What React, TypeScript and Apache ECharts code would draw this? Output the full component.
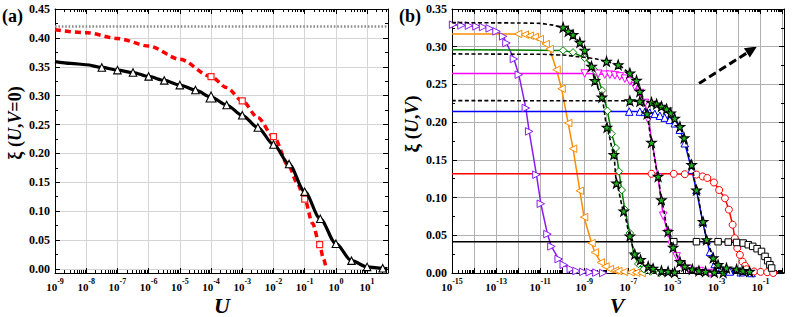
import React, { useEffect, useRef } from 'react';
import * as echarts from 'echarts';

const FONT = '"Liberation Serif", "Times New Roman", Times, serif';

// ---------------- Panel (a): xi(U, V=0) vs U  (x stored as log10 U) ----------------
const aLimitXi = 0.425;
const aBlackLogU = [-9, -8.5, -8, -7.5, -7, -6.5, -6, -5.5, -5, -4.5, -4, -3.5, -3, -2.5, -2, -1.5, -1, -0.5, 0, 0.5, 1, 1.5, 1.65];
const aBlackXi = [0.359, 0.356, 0.3535, 0.3488, 0.3442, 0.34, 0.3333, 0.3264, 0.3183, 0.3097, 0.2976, 0.2838, 0.266, 0.2448, 0.2155, 0.1816, 0.1338, 0.0868, 0.0437, 0.0144, 0.0036, 0.0012, 0.0005];
const aBlackMarkFrom = 3;
const aBlackMarkTo = 22;
const aRedLogU = [-9, -8, -7, -6, -5, -4, -3.5, -3, -2.5, -2, -1.5, -1.25, -1, -0.75, -0.52, -0.4, -0.31];
const aRedXi = [0.414, 0.409, 0.399, 0.386, 0.363, 0.333, 0.314, 0.291, 0.262, 0.229, 0.177, 0.15, 0.121, 0.079, 0.042, 0.018, 0.0];
const aRedMarkedLogU = [-4, -3, -2, -1, -0.52];
const aXTicks = { min: -9, max: 1.67 };

// ---------------- Panel (b): xi(U, V) vs V  (x stored as log10 V) ----------------
const purpleLogV = [-14.95, -14.57, -14.23, -13.89, -13.59, -13.29, -12.98, -12.68, -12.53, -12.19, -11.97, -11.65, -11.5, -11.17, -10.97, -10.67, -10.49, -10.16, -9.93, -9.61, -9.35, -9.05, -8.75, -8.45, -8.14];
const purpleXi = [0.3292, 0.3283, 0.3279, 0.327, 0.3261, 0.3243, 0.3203, 0.3137, 0.3049, 0.2837, 0.2629, 0.2187, 0.1877, 0.1303, 0.0918, 0.0516, 0.0352, 0.0185, 0.0109, 0.0052, 0.0026, 0.0015, 0.001, 0.0005, 0.0];

const orangeLogV = [-15, -12.0, -11.7, -11.47, -11.25, -11.02, -10.75, -10.57, -10.26, -10.03, -9.73, -9.51, -9.2, -9.01, -8.67, -8.52, -8.25, -8.04, -7.84, -7.61, -7.46, -7.2, -6.9, -6.65, -6.4];
const orangeXi = [0.3169, 0.3169, 0.316, 0.3146, 0.3129, 0.3102, 0.3036, 0.297, 0.2695, 0.2443, 0.1988, 0.1648, 0.109, 0.0742, 0.0397, 0.0273, 0.014, 0.0087, 0.0052, 0.0033, 0.0026, 0.0015, 0.001, 0.0005, 0.0];

const greenLogV = [-15, -9.96, -9.51, -8.98, -8.48, -8.19, -7.95, -7.76, -7.57, -7.43, -7.3, -7.16, -6.93, -6.75, -6.55, -6.3, -6.0, -5.6];
const greenXi = [0.296, 0.2951, 0.2925, 0.285, 0.2673, 0.242, 0.2151, 0.1846, 0.1657, 0.1347, 0.11, 0.084, 0.053, 0.025, 0.012, 0.005, 0.002, 0.0];

const magentaLogV = [-15, -8.98, -8.37, -8.07, -7.84, -7.61, -7.39, -7.16, -6.93, -6.71, -6.48, -6.25, -6.1, -5.65, -5.42, -5.2, -5.04, -4.81, -4.59, -4.29, -3.76, -3.3];
const magentaXi = [0.2645, 0.2645, 0.2642, 0.2629, 0.2629, 0.262, 0.2606, 0.2576, 0.254, 0.2474, 0.2386, 0.2254, 0.2032, 0.1267, 0.0759, 0.053, 0.0375, 0.022, 0.011, 0.0052, 0.0026, 0.0];

const blueLogV = [-15, -6.96, -6.48, -6.25, -6.03, -5.8, -5.57, -5.35, -5.12, -4.89, -4.67, -4.44, -4.13, -3.91, -3.63, -3.45, -3.3, -3.08, -2.8, -2.4, -1.9, -1.41];
const blueXi = [0.214, 0.214, 0.214, 0.2136, 0.2125, 0.211, 0.2085, 0.206, 0.203, 0.1985, 0.19, 0.172, 0.137, 0.11, 0.068, 0.044, 0.028, 0.012, 0.005, 0.002, 0.001, 0.0];

const redLogV = [-15, -5.95, -4.94, -4.44, -3.91, -3.63, -3.42, -3.12, -2.88, -2.62, -2.44, -2.27, -2.17, -2.06, -1.94, -1.82, -1.71, -1.64, -1.3, -1.0, -0.7, -0.43];
const redXi = [0.1315, 0.1315, 0.1315, 0.131, 0.1305, 0.128, 0.126, 0.12, 0.11, 0.099, 0.084, 0.064, 0.046, 0.033, 0.024, 0.015, 0.0096, 0.005, 0.002, 0.0015, 0.001, 0.0];

const blackLogV = [-15, -4.94, -3.91, -2.93, -2.47, -2.09, -1.79, -1.56, -1.36, -1.16, -0.96, -0.8, -0.68, -0.58, -0.5, -0.35, 0.06];
const blackXi = [0.0415, 0.0415, 0.0415, 0.0415, 0.041, 0.0405, 0.0397, 0.0375, 0.0353, 0.0322, 0.0286, 0.022, 0.0163, 0.011, 0.0066, 0.002, 0.0];

const starALogV = [-15, -12, -11, -10.5, -9.96, -9.73, -9.51, -9.2, -8.98, -8.67, -8.52, -8.2, -7.97, -7.66, -7.54, -7.21, -6.93, -6.71, -6.45, -6.1, -5.88, -5.5, -5.2, -4.9];
const starAXi = [0.332, 0.3315, 0.331, 0.329, 0.3256, 0.3203, 0.3159, 0.3057, 0.2951, 0.274, 0.2549, 0.233, 0.193, 0.157, 0.119, 0.082, 0.049, 0.025, 0.0176, 0.0087, 0.006, 0.003, 0.002, 0.001];
const starAMarkFrom = 4;

const starBLogV = [-15, -11, -10, -9, -8.5, -7.99, -7.46, -6.93, -6.63, -6.48, -6.15, -5.95, -5.65, -5.5, -5.2, -4.97, -4.66, -4.44, -4.1, -3.8, -3.5, -3.1, -2.7];
const starBXi = [0.2905, 0.29, 0.289, 0.286, 0.284, 0.2805, 0.276, 0.265, 0.2553, 0.2407, 0.2111, 0.173, 0.128, 0.097, 0.055, 0.034, 0.015, 0.009, 0.005, 0.003, 0.002, 0.001, 0.0005];
const starBMarkFrom = 5;

const starCLogV = [-15, -8, -6.93, -6.48, -5.95, -5.72, -5.5, -5.27, -5.08, -4.9, -4.66, -4.47, -4.13, -3.91, -3.61, -3.45, -3.15, -2.93, -2.55, -2.09, -1.8, -1.5];
const starCXi = [0.2285, 0.2284, 0.2282, 0.2275, 0.2262, 0.224, 0.221, 0.2174, 0.212, 0.205, 0.194, 0.179, 0.1435, 0.11, 0.068, 0.044, 0.02, 0.011, 0.0066, 0.005, 0.003, 0.002];
const starCMarkFrom = 2;

const bXTicks = { min: -15, max: 0.06 };

const STAR = 'path://M50,0 L61.8,35.1 L98.1,35.1 L68.7,56.7 L79.4,91 L50,70 L20.6,91 L31.3,56.7 L1.9,35.1 L38.2,35.1 Z';

function logMinor(minE: number, maxE: number) {
  const out: number[] = [];
  for (let n = Math.floor(minE); n < maxE; n++) {
    for (let k = 2; k <= 9; k++) {
      const v = n + Math.log10(k);
      if (v > minE && v < maxE) out.push(v);
    }
  }
  return out;
}

const isInt = (v: number) => Math.abs(v - Math.round(v)) < 1e-6;

const tickRich = {
  b: { fontFamily: FONT, fontWeight: 'bold', fontSize: 11, color: '#000', lineHeight: 15, verticalAlign: 'bottom' },
  s: { fontFamily: FONT, fontWeight: 'bold', fontSize: 8, color: '#000', lineHeight: 10, verticalAlign: 'top' },
};

function xMain(grid: number, ext: { min: number; max: number }, onlyOdd: boolean, splitColor: string) {
  return {
    type: 'value', gridIndex: grid, position: 'bottom', min: ext.min, max: ext.max, interval: 1,
    axisLine: { show: true, onZero: false, lineStyle: { color: '#000', width: 1 } },
    axisTick: { show: true, inside: true, length: 5, lineStyle: { color: '#000', width: 1 } },
    axisLabel: {
      show: true, margin: 4, showMaxLabel: false,
      formatter: (v: number) => {
        if (!isInt(v)) return '';
        const n = Math.round(v);
        if (onlyOdd && Math.abs(n % 2) !== 1) return '';
        return `{b|10}{s|${n}}`;
      },
      rich: tickRich,
    },
    splitLine: { show: true, lineStyle: { color: splitColor, width: 1 } },
  };
}
function xTop(grid: number, ext: { min: number; max: number }) {
  return {
    type: 'value', gridIndex: grid, position: 'top', min: ext.min, max: ext.max, interval: 1,
    axisLine: { show: true, onZero: false, lineStyle: { color: '#000', width: 1 } },
    axisTick: { show: true, inside: true, length: 5, lineStyle: { color: '#000', width: 1 } },
    axisLabel: { show: false },
    splitLine: { show: false },
  };
}
function xMinor(grid: number, ext: { min: number; max: number }, position: string) {
  return {
    type: 'value', gridIndex: grid, position, min: ext.min, max: ext.max,
    axisLine: { show: false, onZero: false },
    axisTick: { show: true, inside: true, length: 3, customValues: logMinor(ext.min, ext.max), lineStyle: { color: '#000', width: 1 } },
    axisLabel: { show: false },
    splitLine: { show: false },
  };
}
function yAxis(grid: number, position: string, min: number, max: number, labels: boolean, splitColor: string, interval?: number) {
  const ax: any = {
    type: 'value', gridIndex: grid, position, min, max,
    axisLine: { show: true, onZero: false, lineStyle: { color: '#000', width: 1 } },
    axisTick: { show: true, inside: true, length: 5, lineStyle: { color: '#000', width: 1 } },
    minorTick: { show: true, splitNumber: 2, length: 3, lineStyle: { color: '#000', width: 1 } },
    axisLabel: {
      show: labels, margin: 5, showMinLabel: min === 0, fontFamily: FONT, fontWeight: 'bold', fontSize: 12, color: '#000',
      formatter: (v: number) => v.toFixed(2),
    },
    splitLine: { show: labels, lineStyle: { color: splitColor, width: 1 } },
  };
  if (interval) ax.interval = interval; else ax.splitNumber = 9;
  return ax;
}
function hiddenY(grid: number) {
  return { type: 'value', gridIndex: grid, min: 0, max: 1, show: false };
}

function pts(xs: number[], ys: number[], marked: (i: number) => boolean, big?: (i: number) => boolean, bigSize?: number) {
  return xs.map((x, i) => {
    const it: any = { value: [x, ys[i]] };
    if (!marked(i)) it.symbol = 'none';
    else if (big && big(i)) it.symbolSize = bigSize;
    return it;
  });
}

function bLine(xs: number[], ys: number[], color: string, symbol: string, rotate: number, markFrom: number, size: number) {
  return {
    type: 'line', xAxisIndex: 4, yAxisIndex: 3,
    data: pts(xs, ys, (i) => i >= markFrom),
    symbol, symbolSize: size, symbolRotate: rotate, showSymbol: true,
    lineStyle: { color, width: 1.5 },
    itemStyle: { color: '#fff', borderColor: color, borderWidth: 1 },
    silent: true, z: 3,
  };
}
function starLine(xs: number[], ys: number[], markFrom: number) {
  return {
    type: 'line', xAxisIndex: 4, yAxisIndex: 3,
    data: pts(xs, ys, (i) => i >= markFrom),
    symbol: STAR, symbolSize: 9.5, showSymbol: true,
    smooth: 0.2, smoothMonotone: 'x',
    lineStyle: { color: '#000', width: 1.6, type: [4, 2.5] },
    itemStyle: { color: '#1fb51f', borderColor: '#000', borderWidth: 1.1 },
    silent: true, z: 5,
  };
}

function buildOption() {
  const gridA = { left: 55, top: 9, width: 333, height: 264 };
  const gridB = { left: 452, top: 9, width: 332, height: 264 };
  const aColor = '#d4d4d4';
  const bColor = '#b0b0b0';

  // arrow geometry (annotation)
  const tip = [757, 46.5];
  const tail = [699, 83.5];
  const dx = tip[0] - tail[0], dy = tip[1] - tail[1];
  const L = Math.hypot(dx, dy);
  const ux = dx / L, uy = dy / L;
  const baseC = [tip[0] - 12 * ux, tip[1] - 12 * uy];
  const px = -uy, py = ux;

  const titleRich = (size: number) => ({
    g: { fontFamily: FONT, fontSize: size, fontWeight: 'bold', color: '#000' },
    p: { fontFamily: FONT, fontSize: size, fontWeight: 'bold', color: '#000' },
    i: { fontFamily: FONT, fontSize: size, fontWeight: 'bold', fontStyle: 'italic', color: '#000' },
  });

  return {
    animation: false,
    backgroundColor: '#fff',
    grid: [gridA, gridA, gridB, gridB],
    xAxis: [
      xMain(0, aXTicks, false, aColor),
      xTop(0, aXTicks),
      xMinor(1, aXTicks, 'bottom'),
      xMinor(1, aXTicks, 'top'),
      xMain(2, bXTicks, true, bColor),
      xTop(2, bXTicks),
      xMinor(3, bXTicks, 'bottom'),
      xMinor(3, bXTicks, 'top'),
    ],
    yAxis: [
      yAxis(0, 'left', -0.007, 0.45, true, aColor),
      yAxis(0, 'right', -0.007, 0.45, false, aColor),
      hiddenY(1),
      yAxis(2, 'left', 0, 0.35, true, bColor, 0.05),
      yAxis(2, 'right', 0, 0.35, false, bColor, 0.05),
      hiddenY(3),
    ],
    series: [
      {
        type: 'line', xAxisIndex: 0, yAxisIndex: 0,
        data: pts(aRedLogU, aRedXi, (i) => aRedMarkedLogU.includes(aRedLogU[i])),
        symbol: 'rect', symbolSize: 6, showSymbol: true,
        smooth: 0.3, smoothMonotone: 'x',
        lineStyle: { color: '#ff0000', width: 3.5, type: [6, 4] },
        itemStyle: { color: '#fff', borderColor: '#ff2020', borderWidth: 1.2 },
        silent: true, z: 3,
      },
      {
        type: 'line', xAxisIndex: 0, yAxisIndex: 0,
        data: pts(aBlackLogU, aBlackXi, (i) => i >= aBlackMarkFrom && i < aBlackMarkTo, (i) => aBlackLogU[i] === -4, 10),
        symbol: 'triangle', symbolSize: 7.5, showSymbol: true,
        smooth: 0.3, smoothMonotone: 'x',
        lineStyle: { color: '#000', width: 3.2 },
        itemStyle: { color: '#fff', borderColor: '#000', borderWidth: 1.1 },
        markLine: {
          silent: true, symbol: 'none', label: { show: false },
          lineStyle: { color: '#8c8c8c', width: 2.5, type: [1.6, 1.8] },
          data: [{ yAxis: aLimitXi }],
        },
        silent: true, z: 4,
      },
      bLine(purpleLogV, purpleXi, '#8a1cf0', 'triangle', -90, 0, 7.5),
      bLine(orangeLogV, orangeXi, '#ff8c00', 'triangle', 90, 1, 7.5),
      bLine(greenLogV, greenXi, '#008000', 'diamond', 0, 1, 7.5),
      bLine(magentaLogV, magentaXi, '#ff00ff', 'triangle', 180, 1, 7.5),
      bLine(blueLogV, blueXi, '#0000ff', 'triangle', 0, 1, 7.5),
      bLine(redLogV, redXi, '#ff0000', 'circle', 0, 1, 7),
      { ...bLine(blackLogV, blackXi, '#000000', 'rect', 0, 1, 6.5), data: pts(blackLogV, blackXi, (i) => i >= 1 && i < blackLogV.length - 2) },
      starLine(starALogV, starAXi, starAMarkFrom),
      starLine(starBLogV, starBXi, starBMarkFrom),
      starLine(starCLogV, starCXi, starCMarkFrom),
    ],
    graphic: [
      { type: 'text', x: 2, y: 16, style: { text: '(a)', font: `bold 18px ${FONT}`, fill: '#000', verticalAlign: 'middle', textVerticalAlign: 'middle' } },
      { type: 'text', x: 399, y: 16, style: { text: '(b)', font: `bold 18px ${FONT}`, fill: '#000', verticalAlign: 'middle', textVerticalAlign: 'middle' } },
      {
        type: 'text', x: 15, y: 123, rotation: Math.PI / 2,
        style: { text: '{g|ξ }{p|(}{i|U}{p|,}{i|V}{p|=0)}', rich: titleRich(18), align: 'center', verticalAlign: 'middle', textAlign: 'center', textVerticalAlign: 'middle' },
      },
      {
        type: 'text', x: 411, y: 124, rotation: Math.PI / 2,
        style: { text: '{g|ξ }{p|(}{i|U}{p|,}{i|V}{p|)}', rich: titleRich(19), align: 'center', verticalAlign: 'middle', textAlign: 'center', textVerticalAlign: 'middle' },
      },
      { type: 'text', x: 222, y: 305, style: { text: 'U', font: `italic bold 22px ${FONT}`, fill: '#000', align: 'center', verticalAlign: 'middle', textAlign: 'center', textVerticalAlign: 'middle' } },
      { type: 'text', x: 617, y: 305, style: { text: 'V', font: `italic bold 22px ${FONT}`, fill: '#000', align: 'center', verticalAlign: 'middle', textAlign: 'center', textVerticalAlign: 'middle' } },
      { type: 'line', shape: { x1: tail[0], y1: tail[1], x2: baseC[0], y2: baseC[1] }, style: { stroke: '#000', lineWidth: 3, lineDash: [8, 4] } },
      {
        type: 'polygon',
        shape: { points: [[tip[0], tip[1]], [baseC[0] + 5.5 * px, baseC[1] + 5.5 * py], [baseC[0] - 5.5 * px, baseC[1] - 5.5 * py]] },
        style: { fill: '#000' },
      },
    ],
  };
}

export default function App() {
  const ref = useRef<HTMLDivElement>(null);
  useEffect(() => {
    const chart = echarts.init(ref.current!, undefined, { renderer: 'svg' });
    chart.setOption(buildOption() as any);
    return () => chart.dispose();
  }, []);
  return <div ref={ref} style={{ position: 'fixed', left: 0, top: 0, width: 793, height: 317, background: '#fff' }} />;
}
